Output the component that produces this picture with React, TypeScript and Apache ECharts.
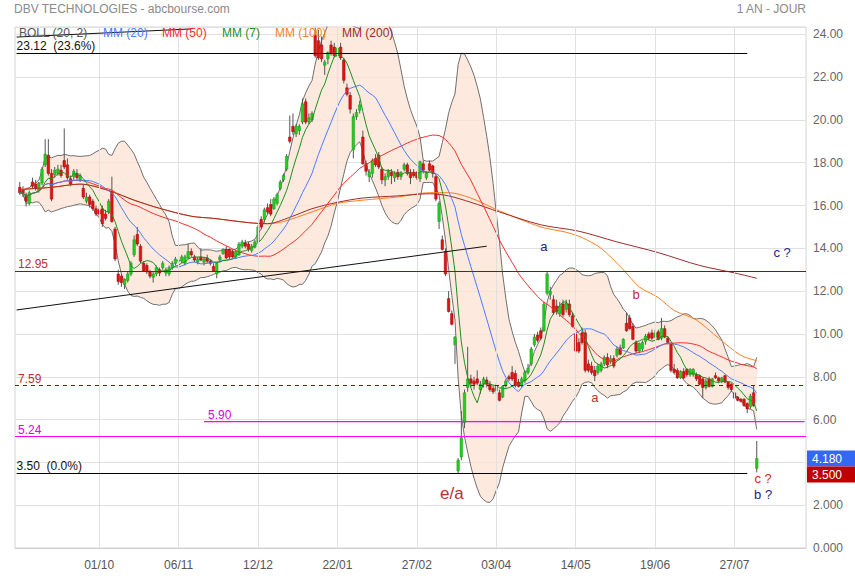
import React, { useEffect, useRef } from "react";
import * as echarts from "echarts";

const TITLE = "DBV TECHNOLOGIES - abcbourse.com";
const PERIOD = "1 AN - JOUR";
const TICK_LABELS = ["01/10", "06/11", "12/12", "22/01", "27/02", "03/04", "14/05", "19/06", "27/07"];
const TICK_SLOTS = [26, 51, 76, 101, 126, 151, 176, 201, 226];
const SLOT_COUNT = 249;
const LEAD = 1;

// [open, high, low, close]
const DAILY_OHLC: number[][] = [
  [16.85, 17.1, 16.5, 16.6], [16.7, 16.9, 16.4, 16.55], [16.5, 16.6, 15.95, 16.2], [16.1, 16.7, 16.0, 16.6],
  [17.1, 17.3, 16.8, 16.9], [17.0, 17.2, 16.7, 16.8], [16.7, 17.1, 16.6, 17.05], [17.05, 17.8, 16.95, 17.7],
  [17.9, 19.1, 17.8, 18.4], [18.35, 19.1, 17.4, 17.5], [17.5, 17.7, 16.2, 16.3], [17.45, 17.8, 17.3, 17.65],
  [17.5, 17.9, 17.4, 17.7], [17.65, 17.9, 17.3, 17.4], [18.1, 19.6, 17.7, 17.8], [17.9, 18.2, 17.2, 17.3],
  [17.25, 17.4, 16.9, 17.0], [17.35, 17.7, 17.2, 17.6], [17.5, 17.7, 17.2, 17.3], [17.2, 17.5, 17.1, 17.4],
  [16.8, 17.0, 16.3, 16.4], [16.2, 16.6, 16.1, 16.4], [16.4, 16.5, 15.9, 16.05], [16.2, 16.3, 15.75, 15.85],
  [15.85, 16.0, 15.5, 15.6], [15.8, 15.9, 15.5, 15.6], [15.85, 16.0, 15.0, 15.15], [15.6, 15.8, 15.3, 15.4],
  [15.7, 16.3, 15.6, 16.2], [16.65, 17.35, 15.2, 15.25], [14.9, 15.0, 13.4, 13.5], [12.8, 13.0, 12.3, 12.45],
  [12.7, 12.8, 12.2, 12.4], [12.3, 12.6, 12.1, 12.55], [12.5, 12.9, 12.4, 12.8], [12.8, 13.4, 12.7, 13.3],
  [13.7, 14.6, 13.6, 14.4], [14.65, 15.0, 14.1, 14.2], [14.1, 14.2, 13.3, 13.4], [13.3, 13.4, 12.9, 12.95],
  [13.2, 13.3, 12.8, 12.9], [12.9, 13.0, 12.6, 12.7], [12.65, 12.9, 12.4, 12.8], [12.8, 13.2, 12.7, 13.1],
  [13.0, 13.1, 12.7, 12.85], [13.1, 13.4, 13.0, 13.3], [12.85, 13.1, 12.7, 13.0], [12.8, 13.2, 12.7, 13.1],
  [13.1, 13.4, 13.0, 13.3], [13.3, 13.6, 13.2, 13.5], [13.4, 13.6, 13.2, 13.45], [13.4, 13.7, 13.3, 13.6],
  [13.3, 13.7, 13.2, 13.6], [13.55, 14.2, 13.5, 13.85], [13.85, 14.0, 13.6, 13.7], [13.6, 13.7, 13.35, 13.45],
  [13.35, 13.6, 13.25, 13.5], [13.6, 14.0, 13.4, 13.45], [13.35, 13.6, 13.2, 13.5], [13.55, 13.7, 13.3, 13.4],
  [13.4, 13.5, 13.2, 13.3], [13.15, 13.3, 12.9, 12.95], [12.8, 13.35, 12.6, 13.3], [13.45, 13.7, 13.4, 13.6],
  [13.75, 14.0, 13.7, 13.95], [13.95, 14.1, 13.5, 13.55], [13.95, 14.0, 13.5, 13.6], [13.85, 13.95, 13.55, 13.6],
  [13.6, 13.9, 13.5, 13.85], [13.7, 14.3, 13.65, 14.2], [14.1, 14.4, 14.0, 14.3], [14.25, 14.4, 14.0, 14.1],
  [14.2, 14.3, 13.85, 13.95], [13.9, 14.2, 13.8, 14.1], [14.05, 14.4, 14.0, 14.3], [14.3, 15.1, 14.25, 15.0],
  [15.35, 15.5, 14.9, 15.0], [15.35, 15.9, 15.2, 15.8], [15.9, 16.1, 15.6, 15.7], [16.05, 16.3, 15.5, 15.6],
  [15.85, 16.4, 15.8, 16.3], [16.1, 16.6, 16.0, 16.5], [16.8, 17.2, 16.7, 17.1], [17.2, 17.5, 17.1, 17.4],
  [17.7, 18.4, 17.6, 18.3], [19.2, 20.2, 18.9, 19.0], [19.7, 20.3, 19.3, 19.45], [19.35, 19.8, 19.2, 19.7],
  [19.5, 19.8, 19.3, 19.7], [19.9, 21.0, 19.8, 20.75], [20.85, 21.0, 19.8, 19.9], [19.9, 20.3, 19.8, 20.1],
  [20.0, 20.4, 19.9, 20.3], [23.95, 24.3, 22.9, 23.0], [23.7, 24.2, 22.8, 22.9], [23.5, 23.9, 22.7, 22.85],
  [22.55, 22.8, 22.1, 22.7], [22.85, 23.2, 22.6, 23.15], [23.5, 23.7, 23.0, 23.1], [23.4, 23.6, 22.9, 23.0],
  [23.0, 23.5, 22.9, 23.35], [23.4, 23.6, 22.8, 22.9], [22.8, 22.9, 21.7, 21.85], [21.5, 21.7, 21.1, 21.2],
  [21.15, 21.3, 20.3, 20.5], [18.6, 20.3, 18.2, 20.15], [20.15, 20.5, 20.0, 20.35], [20.45, 20.9, 20.3, 20.7],
  [19.2, 19.5, 17.9, 17.95], [17.95, 18.1, 17.4, 17.6], [17.35, 17.7, 17.1, 17.55], [17.5, 18.2, 17.3, 18.1],
  [18.2, 18.4, 17.8, 17.9], [18.35, 18.5, 17.7, 17.8], [17.7, 17.8, 17.0, 17.2], [17.2, 17.5, 16.9, 17.35],
  [17.35, 17.7, 17.2, 17.6], [17.55, 17.7, 17.0, 17.4], [17.3, 17.6, 17.1, 17.5], [17.55, 17.7, 17.2, 17.35],
  [17.35, 17.6, 17.2, 17.55], [17.7, 18.0, 17.6, 17.9], [17.9, 18.0, 17.4, 17.5], [17.55, 17.7, 17.0, 17.3],
  [17.55, 17.7, 17.3, 17.4], [17.55, 17.6, 17.2, 17.3], [17.25, 18.1, 17.1, 18.05], [17.95, 18.1, 17.5, 17.65],
  [17.3, 17.6, 17.2, 17.5], [17.95, 18.1, 17.6, 17.65], [17.85, 17.9, 17.3, 17.5], [17.35, 17.4, 16.2, 16.3],
  [15.25, 16.2, 14.9, 16.1], [14.4, 14.6, 13.9, 13.95], [13.85, 14.0, 12.7, 12.8], [11.65, 12.0, 11.0, 11.05],
  [10.95, 11.1, 10.4, 10.45], [9.5, 9.9, 8.6, 9.85], [3.6, 4.2, 3.5, 4.1], [4.25, 6.4, 4.1, 5.15],
  [5.85, 7.4, 5.6, 7.25], [7.5, 9.4, 7.3, 7.9], [7.9, 8.1, 7.5, 7.7], [7.8, 8.0, 7.4, 7.65],
  [7.9, 8.3, 7.6, 7.7], [7.4, 7.8, 7.2, 7.65], [7.65, 8.0, 7.5, 7.9], [7.85, 8.0, 7.5, 7.65],
  [7.65, 7.8, 7.3, 7.4], [7.45, 7.6, 7.2, 7.3], [7.35, 7.7, 7.2, 7.55], [7.25, 7.4, 6.85, 6.9],
  [7.05, 7.6, 7.0, 7.55], [7.6, 7.9, 7.5, 7.8], [8.0, 8.1, 7.8, 7.9], [8.2, 8.5, 7.8, 7.9],
  [8.15, 8.3, 7.5, 7.6], [7.75, 7.9, 7.5, 7.55], [7.6, 8.0, 7.5, 7.9], [7.8, 8.3, 7.7, 8.2],
  [8.2, 8.6, 8.1, 8.4], [8.6, 9.4, 8.5, 9.3], [9.5, 10.0, 9.4, 9.85], [9.95, 10.1, 9.6, 9.7],
  [10.15, 10.3, 9.7, 9.8], [10.15, 11.5, 10.1, 11.4], [11.9, 12.9, 11.8, 12.8], [11.85, 12.2, 11.6, 12.0],
  [11.6, 11.8, 10.9, 11.0], [11.3, 11.6, 10.9, 11.05], [10.95, 11.5, 10.8, 11.3], [11.4, 11.6, 10.8, 10.9],
  [11.15, 11.6, 11.0, 11.45], [11.4, 11.6, 10.8, 10.9], [10.85, 11.0, 10.3, 10.35], [10.0, 10.3, 9.1, 9.2],
  [9.6, 9.8, 9.1, 9.2], [10.05, 10.3, 9.5, 9.6], [10.05, 10.2, 8.2, 8.3], [8.6, 8.8, 8.2, 8.3],
  [8.5, 8.7, 8.1, 8.2], [8.3, 8.5, 7.8, 8.05], [8.2, 8.6, 8.1, 8.5], [8.3, 8.7, 8.2, 8.6],
  [8.6, 9.0, 8.5, 8.9], [8.9, 9.1, 8.4, 8.55], [8.7, 9.0, 8.6, 8.85], [8.85, 9.0, 8.4, 8.5],
  [9.0, 9.4, 8.9, 9.3], [9.35, 9.5, 9.0, 9.05], [9.35, 9.8, 9.3, 9.75], [10.5, 11.0, 10.1, 10.15],
  [10.75, 10.9, 10.2, 10.25], [10.35, 10.5, 9.7, 9.75], [9.6, 9.7, 9.1, 9.2], [9.2, 9.6, 9.1, 9.55],
  [9.3, 9.7, 9.2, 9.6], [9.65, 10.0, 9.5, 9.9], [10.0, 10.1, 9.7, 9.8], [10.05, 10.2, 9.7, 9.8],
  [9.85, 10.2, 9.8, 10.05], [10.1, 10.2, 9.7, 9.75], [9.8, 10.75, 9.7, 10.25], [10.25, 10.4, 9.8, 9.85],
  [9.8, 9.9, 9.5, 9.6], [9.55, 9.6, 8.2, 8.3], [8.35, 8.6, 8.1, 8.2], [8.3, 8.4, 7.9, 7.95],
  [7.95, 8.3, 7.9, 8.25], [8.25, 8.4, 7.9, 7.95], [8.35, 8.4, 8.0, 8.1], [8.1, 8.4, 8.0, 8.35],
  [8.1, 8.4, 8.0, 8.35], [8.1, 8.2, 7.8, 7.9], [8.05, 8.1, 7.6, 7.65], [7.9, 8.0, 7.0, 7.5],
  [7.5, 7.9, 7.4, 7.8], [7.9, 8.0, 7.5, 7.55], [7.55, 7.95, 7.5, 7.9], [8.05, 8.2, 7.9, 7.95],
  [7.95, 8.0, 7.7, 7.8], [7.8, 8.0, 7.7, 7.95], [8.05, 8.1, 7.7, 7.75], [7.75, 7.8, 7.4, 7.5],
  [7.65, 7.7, 7.3, 7.4], [7.25, 7.3, 6.95, 7.0], [7.05, 7.1, 6.85, 6.9], [6.95, 7.0, 6.8, 6.85],
  [6.95, 7.0, 6.6, 6.65], [6.75, 6.8, 6.3, 6.5], [6.6, 7.2, 6.5, 7.1], [7.25, 7.6, 6.6, 6.65],
  [3.72, 5.0, 3.53, 4.18],
];

// Long moving averages (candle index -> value)
const MA200_AT = [0, 10, 19, 28, 36, 44, 54, 61, 72, 78, 85, 92, 100, 108, 119, 129, 135, 142, 151, 164, 176, 188, 201, 214, 225, 232];
const MA200_VAL = [16.75, 16.85, 17.0, 16.7, 16.25, 15.87, 15.5, 15.4, 15.2, 15.15, 15.45, 15.85, 16.15, 16.35, 16.45, 16.55, 16.45, 16.15, 15.7, 15.1, 14.8, 14.3, 13.8, 13.2, 12.85, 12.6];
const MA100_AT = [0, 10, 19, 28, 36, 44, 54, 61, 72, 78, 83, 92, 100, 108, 119, 129, 135, 142, 151, 164, 172, 177, 183, 190, 195, 201, 206, 213, 220, 227, 232];
const MA100_VAL = [16.75, 16.85, 17.0, 16.7, 16.25, 15.87, 15.5, 15.4, 15.2, 15.15, 15.25, 15.7, 16.1, 16.25, 16.4, 16.6, 16.6, 16.35, 15.75, 15.0, 14.75, 14.5, 14.0, 13.0, 12.2, 11.7, 11.1, 10.65, 9.8, 9.0, 8.75];

const FIB_HIGH = 23.12;
const FIB_LOW = 3.5;
const LEVEL_SUPPORT = 12.95;
const LEVEL_DASHED = 7.59;
const LEVEL_MAGENTA_A = 5.9;
const LEVEL_MAGENTA_A_FROM = 59;
const LEVEL_MAGENTA_B = 5.24;
const TREND_LOW = [[0, 11.12], [148, 14.1]];
const TREND_HIGH = [[0, 23.87], [55, 24.25]];

const NOTE_TEXTS = ["a", "b", "a", "e/a", "c ?", "c ?", "b ?"];
const NOTE_SLOTS = [166, 195, 182, 137, 241, 235, 235];
const NOTE_VALUES = [14.1, 11.86, 7.05, 2.55, 13.82, 3.27, 2.52];

const LEGEND_NAMES = ["BOLL (20, 2)", "MM (20)", "MM (50)", "MM (7)", "MM (100)", "MM (200)"];

const FONT = "Liberation Sans, Arial, sans-serif";
const COL = {
  boll: "#6f6f6f",
  fill: "#fde3d3",
  ma20: "#4b7bff",
  ma50: "#ff2b2b",
  ma7: "#1f8f1f",
  ma100: "#ff7f22",
  ma200: "#9e2b2b",
  grid: "#e0e0e0",
  navy: "#24248c",
  brick: "#b83030",
  magenta: "#ff00ff",
};

const closes = DAILY_OHLC.map((r) => r[3]);

function stats(i: number, n: number) {
  const s = Math.max(0, i - n + 1);
  const w = closes.slice(s, i + 1);
  const m = w.reduce((a, b) => a + b, 0) / w.length;
  const v = w.reduce((a, b) => a + (b - m) * (b - m), 0) / w.length;
  return { m, sd: Math.sqrt(v) };
}

function toSlots(f: (i: number) => number): (number | null)[] {
  return Array.from({ length: SLOT_COUNT }, (_, s) => {
    const i = s - LEAD;
    return i >= 0 && i < closes.length ? +f(i).toFixed(4) : null;
  });
}

function sparse(at: number[], val: number[]): (number | null)[] {
  const arr: (number | null)[] = Array(SLOT_COUNT).fill(null);
  at.forEach((i, k) => (arr[i + LEAD] = val[k]));
  return arr;
}

function buildOption() {
  const slots = Array.from({ length: SLOT_COUNT }, (_, i) => String(i));
  const nulls = Array(SLOT_COUNT).fill(null);
  const lower = toSlots((i) => { const s = stats(i, 20); return s.m - 2 * s.sd; });
  const band = toSlots((i) => 4 * stats(i, 20).sd);
  const ma7 = toSlots((i) => stats(i, 7).m);
  const ma20 = toSlots((i) => stats(i, 20).m);
  const ma50 = toSlots((i) => stats(i, 50).m);
  const candleData = DAILY_OHLC.map((r, i) => [i + LEAD, r[0], r[3], r[2], r[1]]);
  const magentaA = Array.from({ length: SLOT_COUNT }, (_, s) => (s >= LEVEL_MAGENTA_A_FROM ? LEVEL_MAGENTA_A : null));

  const maLine = (name: string, data: any[], color: string, z: number, extra: any = {}) => ({
    name, type: "line", data, showSymbol: false, silent: true, z,
    lineStyle: { color, width: 1 }, ...extra,
  });

  const lvlLabel = (text: string, color: string, dist: number[]) => ({
    show: true, formatter: text, position: "insideStartTop", color, fontSize: 12, fontFamily: FONT, distance: dist,
  });

  const seg = (a: number[], b: number[], color: string, label: any, type: any = "solid") => {
    const ls = { color, width: 1, type };
    return [
      { coord: a, lineStyle: ls, label },
      { coord: b, lineStyle: ls, label },
    ];
  };

  return {
    animation: false,
    backgroundColor: "#ffffff",
    grid: { left: 15, right: 49, top: 27, bottom: 32, show: true, borderColor: "#d4d4d4", borderWidth: 1 },
    xAxis: {
      type: "category",
      data: slots,
      boundaryGap: true,
      axisLine: { lineStyle: { color: "#cfcfcf" } },
      axisTick: { show: false },
      splitLine: { show: false },
      axisLabel: {
        interval: (idx: number) => TICK_SLOTS.includes(idx),
        formatter: (_v: string, idx: number) => { const k = TICK_SLOTS.indexOf(idx); return k >= 0 ? TICK_LABELS[k] : ""; },
        color: "#555", fontSize: 12, fontFamily: FONT, margin: 11,
      },
    },
    yAxis: {
      type: "value",
      position: "right",
      min: 0,
      max: 24.34,
      interval: 2,
      axisLine: { show: false },
      axisTick: { show: false },
      splitLine: { lineStyle: { color: COL.grid } },
      axisLabel: {
        showMaxLabel: false,
        color: "#666", fontSize: 12, fontFamily: FONT, margin: 7, padding: [0, 0, 5, 0],
        formatter: (v: number) => (Math.abs(v - Math.round(v)) > 1e-6 || v === 4 ? "" : v >= 6 ? v.toFixed(2) : v.toFixed(3)),
      },
    },
    series: [
      {
        name: "vgrid", type: "line", data: nulls, silent: true, z: 1,
        markLine: {
          silent: true, symbol: ["none", "none"], label: { show: false },
          lineStyle: { color: COL.grid, width: 1, type: "solid" },
          data: TICK_SLOTS.map((s) => ({ xAxis: s })),
        },
      },
      maLine("bollLower", lower, COL.boll, 2, { stack: "boll" }),
      maLine("bollBand", band, COL.boll, 2, { stack: "boll", areaStyle: { color: COL.fill, opacity: 0.78 } }),
      {
        name: "prix", type: "custom", z: 3, silent: true,
        data: candleData,
        encode: { x: 0, y: [1, 2, 3, 4] },
        renderItem: (_p: any, api: any) => {
          const s = api.value(0), o = api.value(1), c = api.value(2), l = api.value(3), h = api.value(4);
          const top = api.coord([s, Math.max(o, c)]);
          const bot = api.coord([s, Math.min(o, c)]);
          const hi = api.coord([s, h]);
          const lo = api.coord([s, l]);
          const w = api.size([1, 0])[0] * 0.8;
          const up = c >= o;
          return {
            type: "group",
            children: [
              { type: "line", shape: { x1: hi[0], y1: hi[1], x2: lo[0], y2: lo[1] }, style: { stroke: "#555", lineWidth: 1 } },
              {
                type: "rect",
                shape: { x: top[0] - w / 2, y: top[1], width: w, height: Math.max(1, bot[1] - top[1]) },
                style: { fill: up ? "#22cc22" : "#dd1515", stroke: up ? "#169a16" : "#a80000", lineWidth: 0.5 },
              },
            ],
          };
        },
      },
      maLine("MM (100)", sparse(MA100_AT, MA100_VAL), COL.ma100, 4, { connectNulls: true, smooth: 0.3 }),
      maLine("MM (200)", sparse(MA200_AT, MA200_VAL), COL.ma200, 4, { connectNulls: true, smooth: 0.3 }),
      maLine("MM (50)", ma50, COL.ma50, 4),
      maLine("MM (20)", ma20, COL.ma20, 4),
      maLine("MM (7)", ma7, COL.ma7, 4),
      maLine("5.90", magentaA, COL.magenta, 5, { lineStyle: { color: COL.magenta, width: 1.2 } }),
      {
        name: "levels", type: "line", data: nulls, silent: true, z: 5,
        markLine: {
          silent: true, symbol: ["none", "none"],
          data: [
            seg([0, FIB_HIGH], [230, FIB_HIGH], "#000000", lvlLabel("23.12  (23.6%)", "#111", [0, 1])),
            seg([0, FIB_LOW], [230, FIB_LOW], "#000000", lvlLabel("3.50  (0.0%)", "#111", [0, 1])),
            { yAxis: LEVEL_SUPPORT, lineStyle: { color: "#b00000", width: 1, type: "solid" }, label: lvlLabel("12.95", "#b83030", [3, 1]) },
            { yAxis: LEVEL_DASHED, lineStyle: { color: "#a00000", width: 1, type: [4, 4] }, label: lvlLabel("7.59", "#b83030", [3, 1]) },
            seg([LEVEL_MAGENTA_A_FROM, LEVEL_MAGENTA_A], [248, LEVEL_MAGENTA_A], COL.magenta, lvlLabel("5.90", "#e000e0", [4, 1])),
            { yAxis: LEVEL_MAGENTA_B, lineStyle: { color: COL.magenta, width: 1, type: "solid" }, label: lvlLabel("5.24", "#e000e0", [3, 0]) },
            seg(TREND_LOW[0], TREND_LOW[1], "#111111", { show: false }),
            seg(TREND_HIGH[0], TREND_HIGH[1], "#111111", { show: false }),
          ],
        },
        markPoint: {
          silent: true,
          symbol: "circle",
          symbolSize: 1,
          itemStyle: { color: "rgba(0,0,0,0)" },
          data: NOTE_TEXTS.map((t, k) => ({
            coord: [NOTE_SLOTS[k], NOTE_VALUES[k]],
            label: {
              show: true, position: "inside", formatter: t, fontFamily: FONT,
              fontSize: t === "e/a" ? 17 : 13,
              color: k === 0 || k === 4 || k === 6 ? COL.navy : k === 5 ? "#d02a2a" : COL.brick,
            },
          })),
        },
      },
    ],
  };
}

export default function App() {
  const ref = useRef<HTMLDivElement>(null);
  useEffect(() => {
    document.body.style.margin = "0";
    const chart = echarts.init(ref.current as HTMLDivElement, undefined, { renderer: "svg" });
    chart.setOption(buildOption() as any);

    const last = closes[closes.length - 1];
    const yLast = chart.convertToPixel({ yAxisIndex: 0 }, last) as number;
    const yLow = Math.max(chart.convertToPixel({ yAxisIndex: 0 }, FIB_LOW) as number, yLast + 16);
    const legendColors = ["#555", COL.ma20, COL.ma50, COL.ma7, COL.ma100, COL.ma200];
    const legendX = [19, 103, 162, 222, 275, 342];
    const txt = (x: number, y: number, text: string, fill: string, align = "left", size = 12) => ({
      type: "text", x, y, z: 100,
      style: { text, fill, font: `${size}px ${FONT}`, textAlign: align, textVerticalAlign: "middle" },
    });
    chart.setOption({
      graphic: [
        txt(14, 9, TITLE, "#8a8a8a"),
        txt(806, 9, PERIOD, "#8a8a8a", "right"),
        ...LEGEND_NAMES.map((n, k) => txt(legendX[k], 33, n, legendColors[k])),
        { type: "rect", z: 100, shape: { x: 807, y: yLast - 8, width: 48, height: 16 }, style: { fill: "#3468f2" } },
        txt(812, yLast, last.toFixed(3), "#ffffff"),
        { type: "rect", z: 100, shape: { x: 807, y: yLow - 8, width: 48, height: 16 }, style: { fill: "#c00000" } },
        txt(812, yLow, FIB_LOW.toFixed(3), "#ffffff"),
      ],
    } as any);
    return () => chart.dispose();
  }, []);
  return <div ref={ref} style={{ width: 855, height: 580 }} />;
}
